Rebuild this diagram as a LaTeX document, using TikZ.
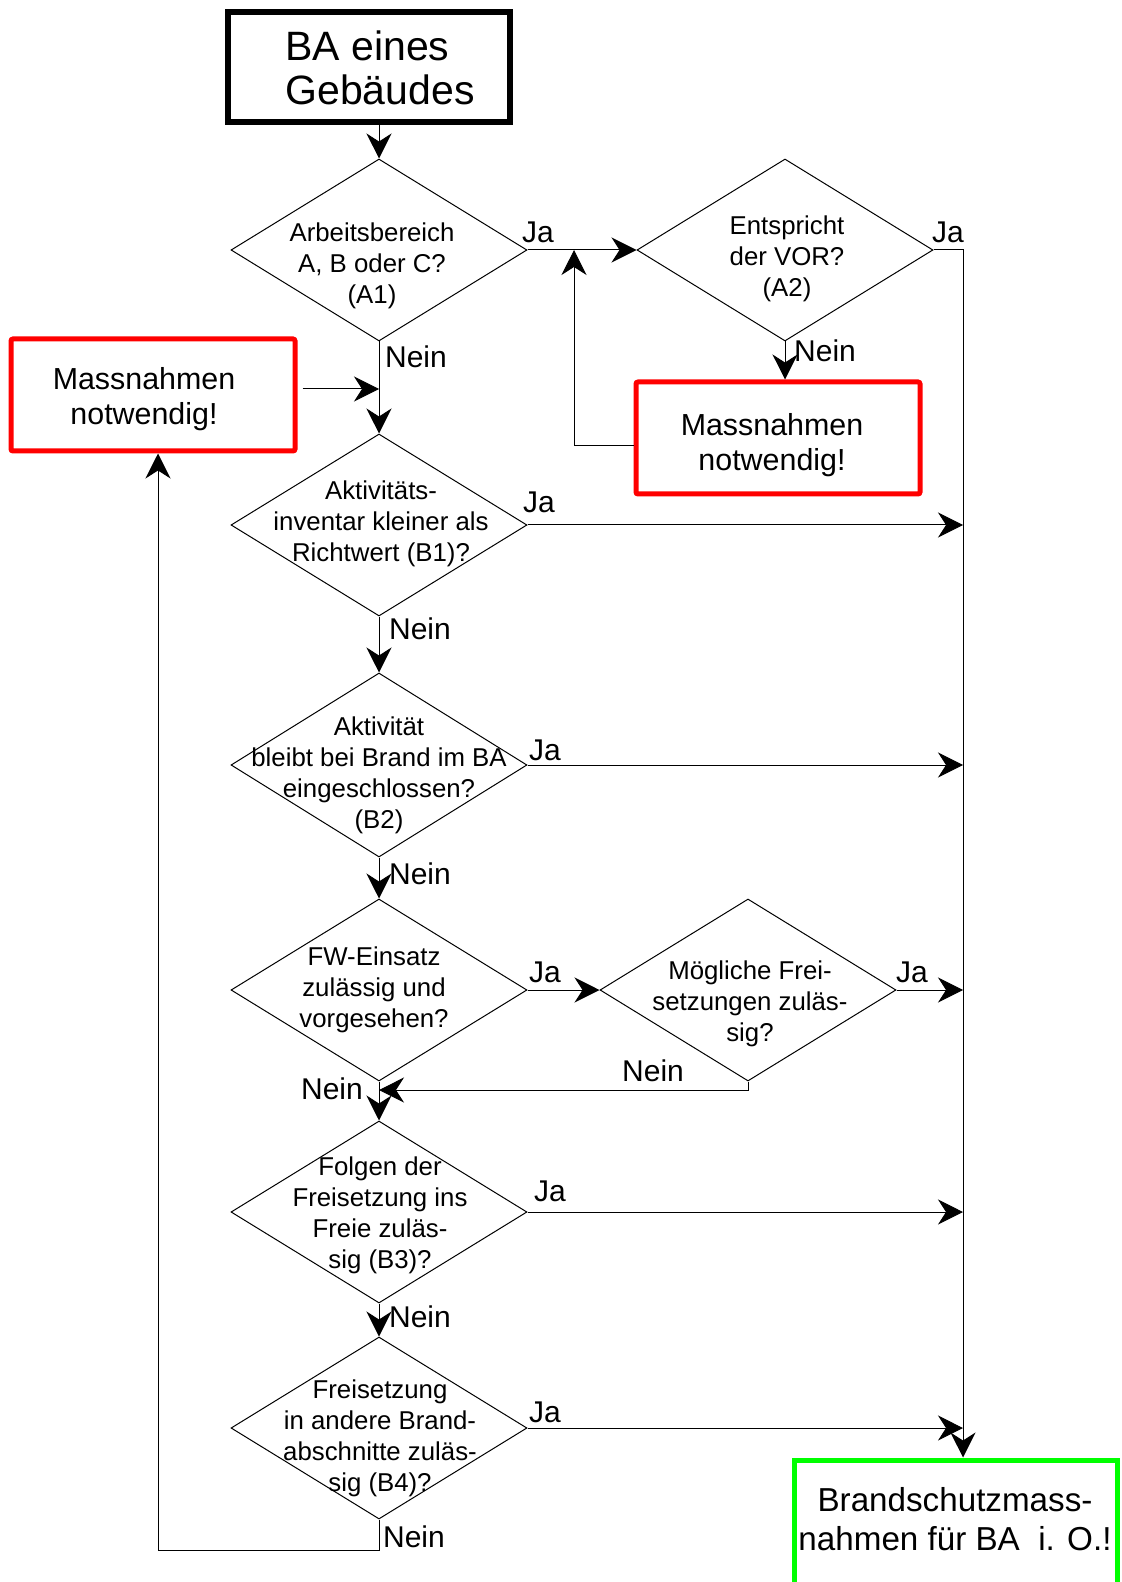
\documentclass[tikz,border=0pt]{standalone}
\usepackage{fontspec}
\setmainfont{Liberation Sans}
\usetikzlibrary{shapes.geometric,arrows.meta}

\tikzset{
  dia/.style={diamond, draw, line width=0.5pt, minimum width=148pt, minimum height=91pt, inner sep=0pt},
  dtxt/.style={align=center, inner sep=0pt, font=\fontsize{12.9}{15.5}\selectfont},
  lbl/.style={inner sep=0pt, font=\fontsize{15}{18}\selectfont},
  boxtxt/.style={align=center, inner sep=0pt, font=\fontsize{15.2}{17.6}\selectfont},
  redbox/.style={draw=red, line width=2.5pt, rounded corners=1pt, minimum width=142pt, minimum height=56pt},
  arr/.style={-{Stealth[length=12.5pt,width=12.5pt,inset=4pt]}, line width=0.5pt},
}

\begin{document}
\begin{tikzpicture}[x=0.5pt, y=-0.5pt]
\useasboundingbox (0,0) rectangle (1122,1582);
\clip (0,0) rectangle (1122,1582);
% Draw boxes
\node[draw, line width=3pt, minimum width=141pt, minimum height=55pt] (start) at (369,67) {};
\node[align=left, inner sep=0pt, anchor=west, font=\fontsize{20.5}{21.7}\selectfont] (starttxt) at (285,68) {BA eines\\Gebäudes};
\node[redbox] (rb1) at (153,395) {};
\node[boxtxt] (rb1txt) at (144,399) {Massnahmen\\notwendig!};
\node[redbox] (rb2) at (778,438) {};
\node[boxtxt] (rb2txt) at (772,445) {Massnahmen\\notwendig!};
\node[draw=green, line width=2.5pt, minimum width=161.5pt, minimum height=100pt] (ok) at (956,1560) {};
\node[align=center, inner sep=0pt, font=\fontsize{16.6}{19.2}\selectfont] (oktxt) at (955,1519) {Brandschutzmass-\\nahmen für BA\ \ i. O.!};
% Draw decisions
\node[dia] (a1) at (379,250) {};
\node[dtxt] (a1txt) at (372,266) {Arbeitsbereich\\A, B oder C?\\(A1)};
\node[dia] (a2) at (785,250) {};
\node[dtxt] (a2txt) at (787,259) {Entspricht\\der VOR?\\(A2)};
\node[dia] (b1) at (379,525) {};
\node[dtxt] (b1txt) at (381,524) {Aktivitäts-\\inventar kleiner als\\Richtwert (B1)?};
\node[dia, minimum height=92pt] (b2) at (379,765) {};
\node[dtxt] (b2txt) at (379,775) {Aktivität\\bleibt bei Brand im BA\\eingeschlossen?\\(B2)};
\node[dia] (b3) at (379,990) {};
\node[dtxt] (b3txt) at (374,990) {FW-Einsatz\\zulässig und\\vorgesehen?};
\node[dia] (b3b) at (748,990) {};
\node[dtxt] (b3btxt) at (750,1004) {Mögliche Frei-\\setzungen zuläs-\\sig?};
\node[dia] (b4) at (379,1212) {};
\node[dtxt] (b4txt) at (380,1215) {Folgen der\\Freisetzung ins\\Freie zuläs-\\sig (B3)?};
\node[dia] (b5) at (379,1428) {};
\node[dtxt] (b5txt) at (380,1438) {Freisetzung\\in andere Brand-\\abschnitte zuläs-\\sig (B4)?};
% Helper points
\coordinate (rl) at (963,249);
\coordinate (fbl) at (574,446);
\coordinate (jn) at (379,1090);
\coordinate (lp) at (158,1550);
% Draw connectors
\draw[arr] (start.south -| a1.north) -- (a1.north);
\draw[arr] (a1.east) -- (a2.west);
\draw[arr] (a2.east) -- (a2.east -| rl) -- (rl |- ok.north);
\draw[arr] (a2.south) -- (a2.south |- rb2.north);
\draw[arr] (rb2.west |- fbl) -- (fbl) -- (fbl |- a1.east);
\draw[arr] (a1.south) -- (b1.north);
\draw[arr] ([xshift=2.5pt,yshift=3pt]rb1.east) -- ([yshift=3pt]rb1.east -| a1.south);
\draw[arr] (b1.south) -- (b2.north);
\draw[arr] (b2.south) -- (b3.north);
\draw[arr] (b3.east) -- (b3b.west);
\draw[arr] (b3b.south) |- (jn);
\draw[arr] (b3.south) -- (b4.north);
\draw[arr] (b4.south) -- (b5.north);
\draw[arr] (b5.south) |- (lp) -- (lp |- rb1.south);
\foreach \n in {b1,b2,b3b,b4,b5}
    \draw[arr] (\n.east) -- (\n.east -| rl);
% Draw labels
\node[lbl] (ja1) at (538,232) {Ja};
\node[lbl] (ja2) at (948,232) {Ja};
\node[lbl] (nein1) at (416,357) {Nein};
\node[lbl] (nein2) at (825,351) {Nein};
\node[lbl] (ja3) at (539,502) {Ja};
\node[lbl] (nein3) at (420,629) {Nein};
\node[lbl] (ja4) at (545,750) {Ja};
\node[lbl] (nein4) at (420,874) {Nein};
\node[lbl] (ja5) at (545,972) {Ja};
\node[lbl] (ja6) at (912,972) {Ja};
\node[lbl] (nein5) at (653,1071) {Nein};
\node[lbl] (nein6) at (332,1089) {Nein};
\node[lbl] (ja7) at (550,1191) {Ja};
\node[lbl] (nein7) at (420,1317) {Nein};
\node[lbl] (ja8) at (545,1412) {Ja};
\node[lbl] (nein8) at (414,1537) {Nein};
\end{tikzpicture}
\end{document}
